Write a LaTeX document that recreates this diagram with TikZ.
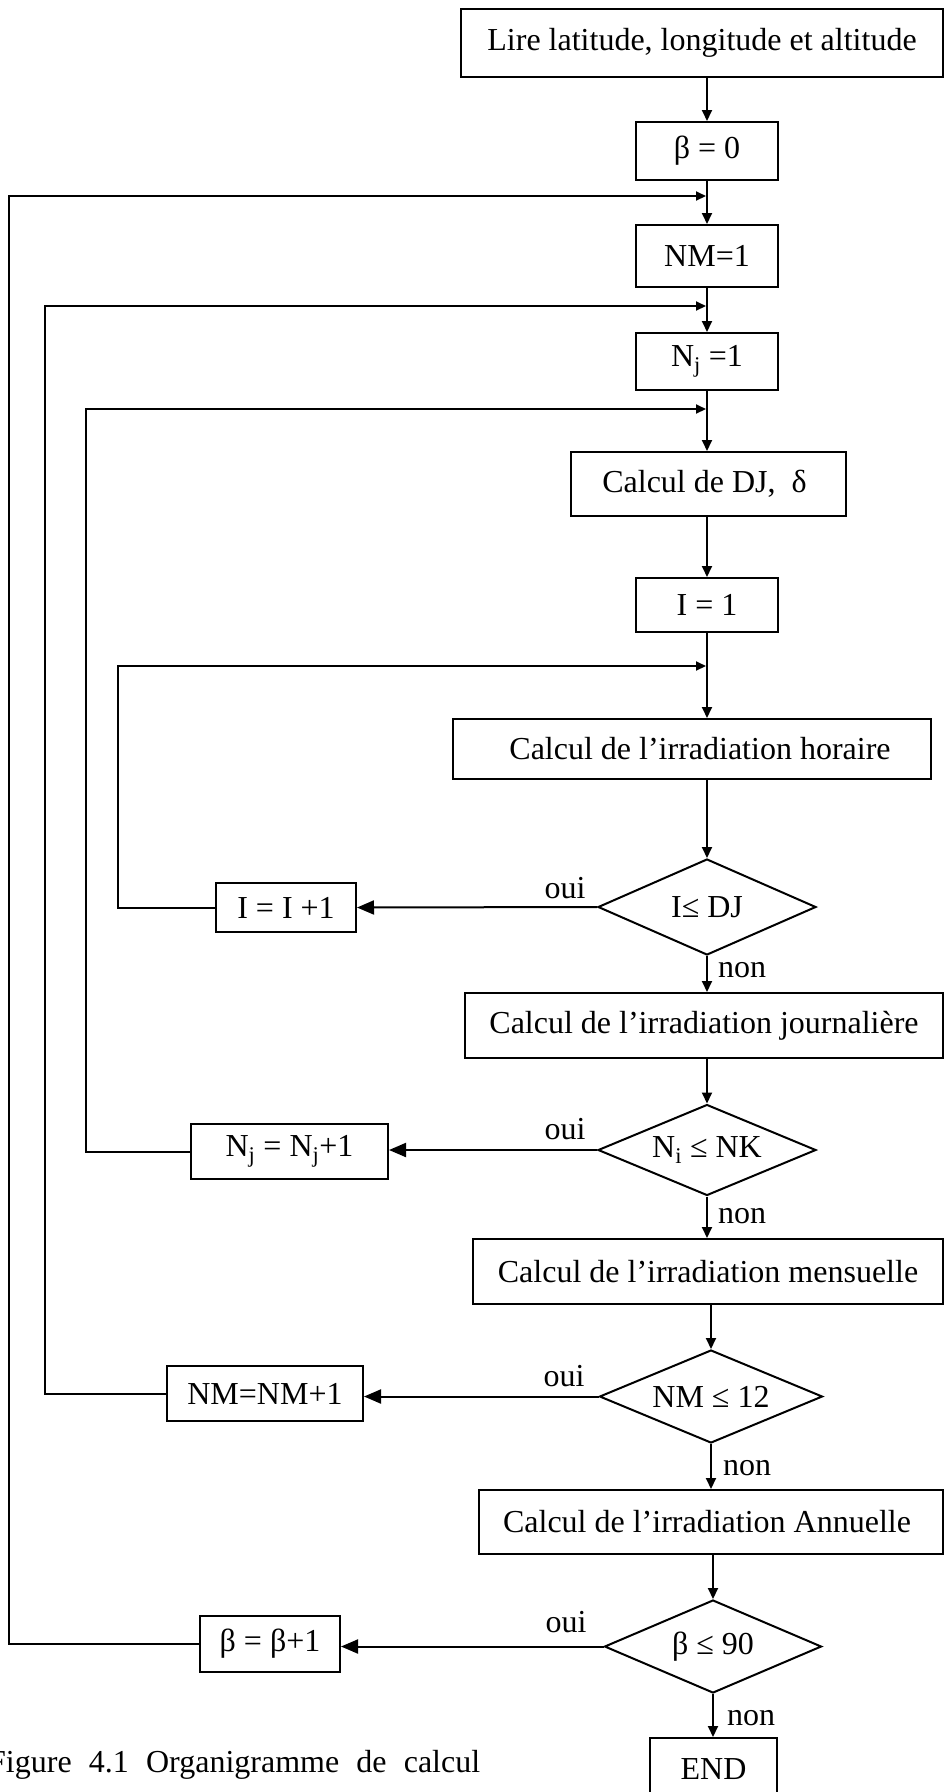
\documentclass[tikz,border=0pt]{standalone}
\usepackage{fontspec}
\setmainfont{Liberation Serif}
\usetikzlibrary{arrows.meta,shapes.geometric}

\tikzset{
  box/.style={draw, line width=2pt, rectangle, inner sep=0pt, align=center},
  cond/.style={draw, line width=2pt, diamond, aspect=2.4, inner sep=0pt},
  flow/.style={line width=1.8pt, -{Triangle[length=11pt,width=10pt]}},
  back/.style={line width=2pt, -{Triangle[length=17pt,width=14pt]}},
  ret/.style={line width=2pt, -{Triangle[length=10pt,width=9pt]}},
  lbl/.style={inner sep=0pt, anchor=base},
}

\begin{document}
\begin{tikzpicture}[x=1pt, y=-1pt, font=\fontsize{32}{38}\selectfont]
\clip (0,0) rectangle (944,1792);
\fill[white] (0,0) rectangle (944,1792);

% main column
\node[box, minimum width=482pt, minimum height=68pt] (lire) at (702,43) {Lire latitude, longitude et altitude};
\node[box, minimum width=142pt, minimum height=58pt] (b0) at (707,151) {β = 0};
\node[box, minimum width=142pt, minimum height=62pt] (nm1) at (707,256) {NM=1};
\node[box, minimum width=142pt, minimum height=57pt] (nj1) at (707,361.5) {N\textsubscript{j} =1};
\node[box, minimum width=275pt, minimum height=64pt] (dj) at (708.5,484) {Calcul de DJ,\ \ δ\hspace*{8pt}};
\node[box, minimum width=142pt, minimum height=54pt] (i1) at (707,605) {I = 1};
\node[box, minimum width=478pt, minimum height=60pt] (hor) at (692,749) {\hspace*{16pt}Calcul de l’irradiation horaire};
\node[cond, minimum width=218pt, minimum height=96pt] (dIJ) at (707,907) {I≤ DJ};
\node[box, minimum width=478pt, minimum height=65pt] (jour) at (704,1025.5) {Calcul de l’irradiation journalière};
\node[cond, minimum width=218pt, minimum height=91pt] (dNj) at (707,1150) {N\textsubscript{i} ≤ NK};
\node[box, minimum width=470pt, minimum height=65pt] (mens) at (708,1271.5) {Calcul de l’irradiation mensuelle};
\node[cond, minimum width=223pt, minimum height=93pt] (dNM) at (711,1396.5) {NM ≤ 12};
\node[box, minimum width=464pt, minimum height=64pt] (ann) at (711,1522) {Calcul de l’irradiation Annuelle\hspace*{8pt}};
\node[cond, minimum width=217pt, minimum height=93pt] (dB) at (713,1646.5) {β ≤ 90};
\node[box, minimum width=127pt, minimum height=62pt] (end) at (713.5,1769) {END};

% increment boxes
\node[box, minimum width=140pt, minimum height=49pt] (iinc) at (286,907.5) {I = I +1};
\node[box, minimum width=197pt, minimum height=55pt] (njinc) at (289.5,1151.5) {N\textsubscript{j} = N\textsubscript{j}+1};
\node[box, minimum width=196pt, minimum height=55pt] (nminc) at (265,1393.5) {NM=NM+1};
\node[box, minimum width=140pt, minimum height=56pt] (binc) at (270,1644) {β = β+1};

% junctions where the loops rejoin the main column
\coordinate (jB) at (706,196);
\coordinate (jNM) at (706,306);
\coordinate (jNj) at (706,409);
\coordinate (jI) at (706,666);

% forward flow
\draw[flow] (b0.north |- lire.south) -- (b0.north);
\draw[flow] (b0.south) -- (nm1.north);
\draw[flow] (nm1.south) -- (nj1.north);
\draw[flow] (nj1.south) -- (nj1.south |- dj.north);
\draw[flow] (i1.north |- dj.south) -- (i1.north);
\draw[flow] (i1.south) -- (i1.south |- hor.north);
\draw[flow] (dIJ.north |- hor.south) -- (dIJ.north);
\draw[flow] (dIJ.south) -- (dIJ.south |- jour.north);
\draw[flow] (dNj.north |- jour.south) -- (dNj.north);
\draw[flow] (dNj.south) -- (dNj.south |- mens.north);
\draw[flow] (dNM.north |- mens.south) -- (dNM.north);
\draw[flow] (dNM.south) -- (dNM.south |- ann.north);
\draw[flow] (dB.north |- ann.south) -- (dB.north);
\draw[flow] (dB.south) -- (dB.south |- end.north);

% "oui" branches
\draw[back] (dIJ.west) -- (iinc.east);
\draw[back] (dNj.west) -- (dNj.west -| njinc.east);
\draw[back] (dNM.west) -- (dNM.west -| nminc.east);
\draw[back] (dB.west) -- (dB.west -| binc.east);

% loops back to the main column
\draw[ret] (iinc.west) -- ++(-97,0) |- (jI);
\draw[ret] (njinc.west) -- ++(-104,0) |- (jNj);
\draw[ret] (nminc.west) -- ++(-121,0) |- (jNM);
\draw[ret] (binc.west) -- ++(-190,0) |- (jB);

% branch labels
\node[lbl] (ouiI) at (565,898) {oui};
\node[lbl, anchor=base west] (nonI) at (718,977) {non};
\node[lbl] (ouiNj) at (565,1139) {oui};
\node[lbl, anchor=base west] (nonNj) at (718,1223) {non};
\node[lbl] (ouiNM) at (564,1386) {oui};
\node[lbl, anchor=base west] (nonNM) at (723,1475) {non};
\node[lbl] (ouiB) at (566,1632) {oui};
\node[lbl, anchor=base west] (nonB) at (727,1725) {non};

% caption
\node[inner sep=0pt, anchor=base west] (cap) at (-12,1772) {\makebox[492pt][s]{Figure 4.1 Organigramme de calcul}};
\end{tikzpicture}
\end{document}
